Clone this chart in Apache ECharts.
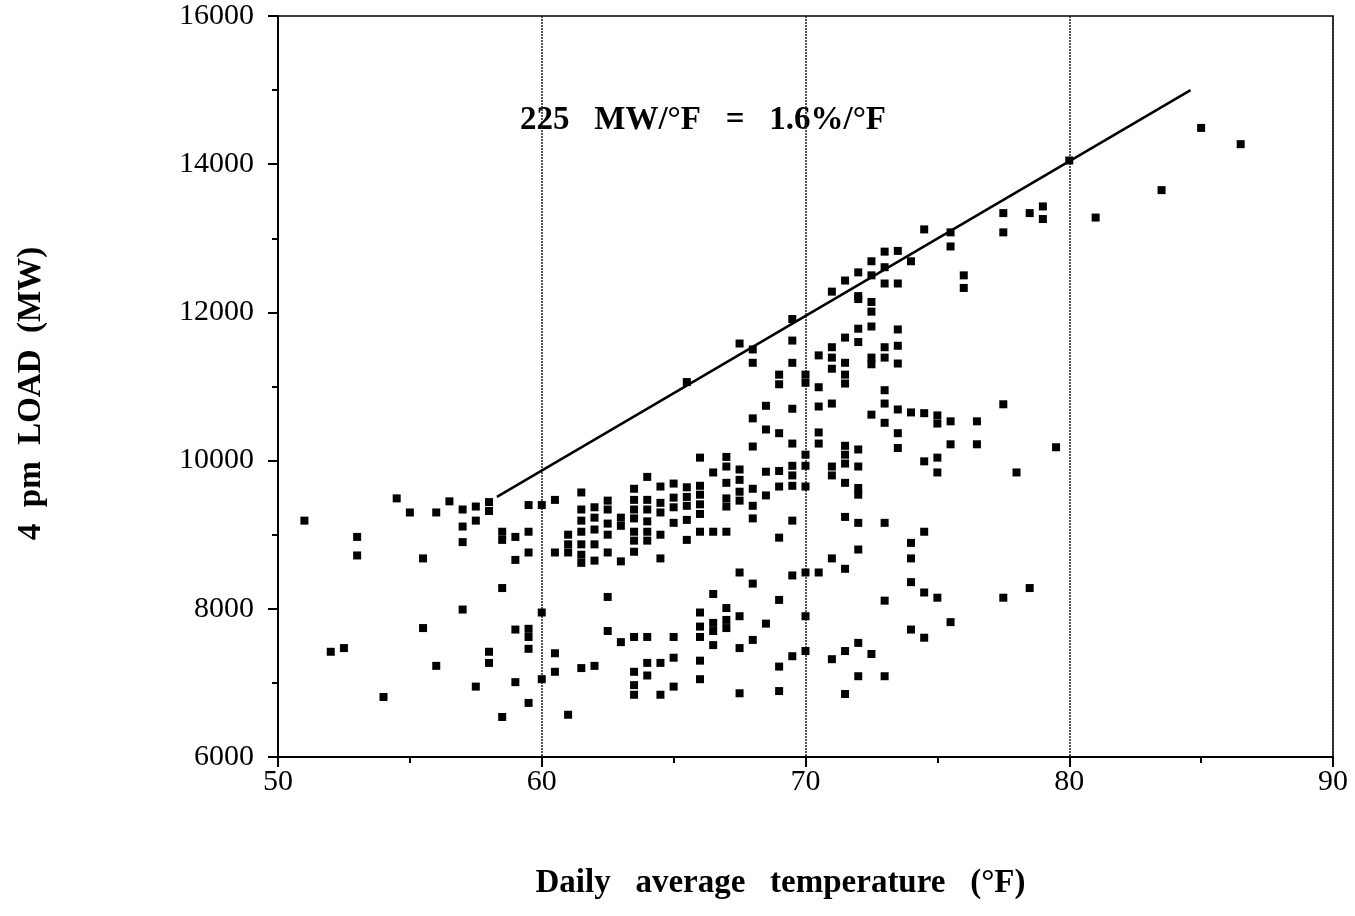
<!DOCTYPE html>
<html>
<head>
<meta charset="utf-8">
<script src="https://cdn.jsdelivr.net/npm/echarts@6/dist/echarts.min.js"></script>
<style>html,body{margin:0;padding:0;background:#fff;}#c{width:1355px;height:916px;}</style>
</head>
<body>
<div id="c"></div>
<script>
// Daily average temperature (°F)
const temps = [
51,53,53,54.5,55,56,56.5,57,57,57,57.5,57.5,58,58,58.5,58.5,59,59.5,59.5,59.5,59,55.5,58.5,57,55.5,59,59.5,59.5,59.5,60,52.5,52,56,58,58,57.5,59,54,59.5,58.5,60,
60.5,60,61.5,61.5,61.5,61.5,61.5,61.5,61.5,61,61,61,60.5,62,62,62,62,62,62.5,62.5,62.5,62.5,62.5,63,63,63,63.5,63.5,63.5,63.5,63.5,63.5,63.5,64,64,64,64,64,64,64.5,64.5,64.5,64.5,64.5,65,65,65,65,65.5,65.5,65.5,65.5,65.5,66,66,66,66,66,66,66.5,66.5,67,67,67,67,67,67,67.5,67.5,67.5,67.5,68,68,68,68.5,68.5,69,69,69,69.5,69.5,69.5,69.5,69.5,67.5,68,69,66.5,62.5,62.5,63,63.5,64,65,66,66,66,66.5,66.5,66.5,67,67,67,67.5,67.5,68,68.5,69,69,69.5,60.5,60.5,61.5,62,63.5,63.5,63.5,64,64,64.5,64.5,65,65,66,66,67.5,61,
70,71,71,71.5,72,74.5,75,75,78,70,71.5,72,72,71.5,72,73,74.5,74,74,72,71,71.5,70.5,70,74,74.5,75,77.5,78.5,73,70,75.5,74,74.5,72,71.5,70,72.5,71,72,73,71.5,
65.5,67.5,68,68,69.5,69.5,69.5,69,69,70,70,70.5,71,71,71,71.5,71.5,71.5,71.5,72,72,72,72.5,72.5,72.5,72.5,72.5,73,73,73.5,73.5,73.5,73,73,73,72.5,73.5,74,73.5,73.5,70.5,71,70.5,70.5,70.5,68.5,68,68.5,69,69.5,69.5,68,70,71.5,71.5,72,
74.5,75.5,75.5,76,76,77.5,77.5,78.5,79,79,80,81,83.5,85,86.5,73,73.5,74,72.5,73,72,72.5,73,73.5,71.5,71,72,74.5,75,75,75.5,76.5,77.5,75.5,76.5,79.5
];
// 4 pm LOAD (MW)
const loads = [
9190,8970,8720,9490,9300,9300,9450,9340,9110,8900,9380,9190,9440,9320,9040,8930,8970,9400,9040,8760,8660,8680,8280,7990,7740,7720,7730,7620,7460,7950,7470,7420,7230,7420,7270,6950,7010,6810,6730,6540,7050,
9470,9400,9570,9340,9190,9040,8870,8730,8620,9000,8870,8760,8760,9370,9230,9070,8870,8650,9460,9340,9150,9000,8760,9230,9120,8640,9620,9470,9340,9220,9040,8920,8770,9780,9470,9340,9180,9040,8920,9650,9430,9300,9000,8680,9690,9500,9370,9160,9640,9510,9390,9200,8930,10040,9660,9540,9410,9280,9040,9840,9040,10050,9920,9700,9490,9380,9040,9880,9740,9580,9460,9620,9390,9220,9850,9530,9860,9650,8960,9930,9800,9660,9190,8450,8490,8340,8120,8200,8160,7700,7550,7620,7620,7620,7950,7760,7620,7810,7700,7510,8010,7850,7740,7900,7470,7580,7800,7220,6890,7360,7400,7150,7200,7230,7150,6970,6840,7270,7100,7270,6840,7340,6950,7300,7050,6860,6570,
9930,9920,9800,9960,9920,9990,10040,9840,9840,9650,9700,9630,9540,9240,9160,9160,9040,8890,8680,8800,8680,8540,8490,8490,8360,8220,8150,8150,8280,8110,7900,7820,7720,7610,7540,7430,7430,7390,7320,7090,7090,6850,
11060,11580,11500,11320,11910,11620,11320,11160,11030,11160,11050,11420,11530,11390,11240,11660,11320,11160,11040,12180,11780,11600,12140,12010,11810,11390,11300,11530,11390,11770,11550,11310,10950,10770,10510,10620,10690,10650,10370,10170,10990,10770,10730,10380,10230,10740,10570,10420,10370,10700,10230,10190,10080,10200,10080,10150,
13120,13080,12890,12500,12330,13340,13080,13340,13430,13260,14050,13280,13650,14490,14270,12820,12830,12690,12690,12610,12540,12500,12390,12390,12430,12280,12220,10640,10610,10500,10530,10530,10760,10220,10220,10180
];
// Fitted upper-envelope line (end points)
const lineTemps = [58.3, 84.6];
const lineLoads = [9510, 15000];
const sp = '\u00a0\u00a0\u00a0';
const annotation = '225' + sp + 'MW/°F' + sp + '=' + sp + '1.6%/°F';
const xName = 'Daily' + sp + 'average' + sp + 'temperature' + sp + '(°F)';
const yName = '4\u00a0\u00a0pm\u00a0\u00a0LOAD\u00a0\u00a0(MW)';

const points = temps.map((t, i) => [t, loads[i]]);
const linePts = lineTemps.map((t, i) => [t, lineLoads[i]]);
const serif = '"Liberation Serif", "Times New Roman", serif';

const chart = echarts.init(document.getElementById('c'), null, {renderer: 'canvas'});
chart.setOption({
  animation: false,
  backgroundColor: '#fff',
  grid: {left: 278, right: 22, top: 16, bottom: 159, show: true, borderColor: '#000', borderWidth: 1.5, backgroundColor: 'transparent'},
  xAxis: {
    type: 'value', min: 50, max: 90, interval: 10,
    name: xName,
    nameLocation: 'middle', nameGap: 110,
    nameTextStyle: {fontFamily: serif, fontWeight: 'bold', fontSize: 33, color: '#000', padding: [0, 50, 0, 0]},
    axisLine: {lineStyle: {color: '#000', width: 2}},
    axisTick: {inside: false, length: 10, lineStyle: {color: '#000', width: 2}},
    minorTick: {show: true, splitNumber: 2, length: 6, lineStyle: {color: '#000', width: 2}},
    axisLabel: {fontFamily: serif, fontSize: 30, color: '#000', margin: 10, formatter: v => String(v)},
    splitLine: {show: true, lineStyle: {color: '#222', width: 1.5, type: [2, 1]}}
  },
  yAxis: {
    type: 'value', min: 6000, max: 16000, interval: 2000,
    name: yName, nameLocation: 'middle', nameGap: 230, nameRotate: 90,
    nameTextStyle: {fontFamily: serif, fontWeight: 'bold', fontSize: 33, color: '#000', padding: [0, 14, 0, 0]},
    axisLine: {lineStyle: {color: '#000', width: 2}},
    axisTick: {inside: false, length: 10, lineStyle: {color: '#000', width: 2}},
    minorTick: {show: true, splitNumber: 2, length: 6, lineStyle: {color: '#000', width: 2}},
    axisLabel: {fontFamily: serif, fontSize: 30, color: '#000', margin: 24, formatter: v => String(v)},
    splitLine: {show: false}
  },
  graphic: [{
    type: 'text', left: 520, top: 104,
    style: {text: annotation, font: 'bold 33px ' + serif, fill: '#000'}
  }],
  series: [
    {type: 'scatter', data: points, symbol: 'rect', symbolSize: 8, itemStyle: {color: '#000', opacity: 1}, z: 3},
    {type: 'line', data: linePts, showSymbol: false, symbol: 'none', lineStyle: {color: '#000', width: 2.5}, z: 4}
  ]
});
</script>
</body>
</html>
